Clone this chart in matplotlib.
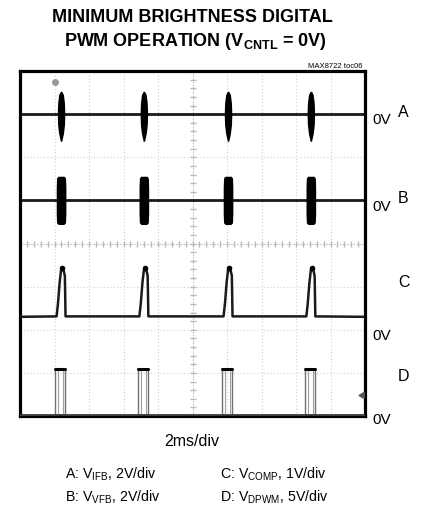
import matplotlib
matplotlib.use('Agg')
import matplotlib.pyplot as plt
import numpy as np

W, H = 422, 506

# scope screen: 10 x 8 divisions, values in divisions
pulse_t = [1.19, 3.59, 6.03, 8.43]          # pulse positions (div), 2ms/div

# A: V_IFB burst envelope
a_base = 7.0
a_env_y = [7.53, 7.45, 7.25, 7.0, 6.75, 6.55, 6.37]
a_env_hw = [0.02, 0.07, 0.10, 0.11, 0.10, 0.07, 0.02]

# B: V_VFB burst envelope
b_base = 5.0
b_env_y = [5.56, 5.52, 5.3, 5.0, 4.7, 4.48, 4.44]
b_env_hw = [0.09, 0.13, 0.14, 0.14, 0.14, 0.13, 0.08]

# C: V_COMP pulse shape (offset from pulse, level)
c_base = 2.3
c_dx = [-0.13, -0.09, -0.04, 0.0, 0.03, 0.08, 0.11, 0.12, 0.13]
c_y = [2.31, 2.6, 3.1, 3.38, 3.44, 3.36, 3.25, 2.8, 2.31]

# D: V_DPWM pulse
d_base = 0.03
d_left, d_right, d_top = -0.17, 0.12, 1.09

labels_right = [('0V', 6.88), ('0V', 4.86), ('0V', 1.88), ('0V', -0.07)]
channel_names = [('A', 7.07), ('B', 5.07), ('C', 3.12), ('D', 0.95)]

plt.rcParams['font.family'] = ['Liberation Sans', 'DejaVu Sans']
plt.rcParams['mathtext.fontset'] = 'custom'
plt.rcParams['mathtext.rm'] = 'Liberation Sans'
plt.rcParams['mathtext.bf'] = 'Liberation Sans:bold'

fig = plt.figure(figsize=(W / 100, H / 100), dpi=100)
x0, x1, y0, y1 = 20, 365, 72, 417
ax = fig.add_axes([x0 / W, 1 - y1 / H, (x1 - x0) / W, (y1 - y0) / H])
ax.set_xlim(0, 10)
ax.set_ylim(0, 8)
ax.set_xticks([])
ax.set_yticks([])
for s in ax.spines.values():
    s.set_linewidth(2.3)

# graticule
for i in range(1, 10):
    ax.axvline(i, color='#d0d0d0', lw=0.8, ls=(0, (1, 2)), zorder=0)
for j in range(1, 8):
    ax.axhline(j, color='#d0d0d0', lw=0.8, ls=(0, (1, 2)), zorder=0)
minor = np.arange(0, 10.01, 0.2)
ax.plot(minor, [4] * len(minor), '|', color='#b8b8b8', ms=4, zorder=0)
minor_y = np.arange(0, 8.01, 0.2)
ax.plot([5] * len(minor_y), minor_y, '_', color='#b8b8b8', ms=4, zorder=0)
ax.axvline(5, color='#c0c0c0', lw=0.8, ls=(0, (1, 1.5)), zorder=0)
ax.axhline(4, color='#c0c0c0', lw=0.8, ls=(0, (1, 1.5)), zorder=0)

# A trace
ax.axhline(a_base, color='#1a1a1a', lw=2.0, zorder=2)
for t in pulse_t:
    ax.fill_betweenx(a_env_y, [t - w for w in a_env_hw], [t + w for w in a_env_hw],
                     color='black', lw=0, zorder=3)

# B trace
ax.axhline(b_base, color='#1a1a1a', lw=2.0, zorder=2)
for t in pulse_t:
    ax.fill_betweenx(b_env_y, [t - w for w in b_env_hw], [t + w for w in b_env_hw],
                     color='black', lw=0, zorder=3)

# C trace
cx = [0]
cy = [c_base]
for t in pulse_t:
    cx += [t + d for d in c_dx]
    cy += c_y
cx.append(10)
cy.append(c_base)
ax.plot(cx, cy, color='#1a1a1a', lw=1.8, zorder=3)
for t in pulse_t:
    ax.plot(t + c_dx[4], c_y[4], 'o', color='black', ms=3, zorder=4)

# D trace
dx = [0]
dy = [d_base]
for t in pulse_t:
    dx += [t + d_left, t + d_left, t + d_right, t + d_right]
    dy += [d_base, d_top, d_top, d_base]
dx.append(10)
dy.append(d_base)
ax.plot(dx, dy, color='#707070', lw=1.0, zorder=3)
for t in pulse_t:
    ax.plot([t + d_left + 0.08, t + d_left + 0.08], [d_base, d_top - 0.05],
            color='#a0a0a0', lw=0.8, zorder=3)
    ax.plot([t + d_right - 0.06, t + d_right - 0.06], [d_base, d_top - 0.05],
            color='#a0a0a0', lw=0.8, zorder=3)
    ax.plot([t + d_left, t + d_right], [d_top, d_top], color='black', lw=2.2,
            solid_capstyle='round', zorder=4)
ax.plot([0, 10], [d_base, d_base], color='#333333', lw=1.2, zorder=3)

# markers
ax.plot(9.92, 0.49, marker=(3, 0, 90), color='#555555', ms=5, clip_on=False, zorder=5)
ax.plot(1.01, 7.74, 'o', color='#999999', ms=4, zorder=5)

# right side labels
for txt, yv in labels_right:
    ax.text(10.2, yv, txt, fontsize=11, ha='left', va='center', clip_on=False)
for txt, yv in channel_names:
    ax.text(10.95, yv, txt, fontsize=11.5, ha='left', va='center', clip_on=False)

# title
fig.text(192 / W, 1 - 18 / H, 'MINIMUM BRIGHTNESS DIGITAL', fontsize=13,
         fontweight='bold', ha='center', va='center')
fig.text(195 / W, 1 - 42 / H, r'PWM OPERATION (V$_{\mathbf{CNTL}}$ = 0V)',
         fontsize=13, fontweight='bold', ha='center', va='center')
fig.text(363 / W, 1 - 67 / H, 'MAX8722 toc06', fontsize=5.5, ha='right', va='center')

fig.text(192 / W, 1 - 442 / H, '2ms/div', fontsize=11.5, ha='center', va='center')
fig.text(65 / W, 1 - 474 / H, r'A: V$_{\mathrm{IFB}}$, 2V/div', fontsize=10.2, ha='left', va='center')
fig.text(65 / W, 1 - 497 / H, r'B: V$_{\mathrm{VFB}}$, 2V/div', fontsize=10.2, ha='left', va='center')
fig.text(220 / W, 1 - 474 / H, r'C: V$_{\mathrm{COMP}}$, 1V/div', fontsize=10.2, ha='left', va='center')
fig.text(220 / W, 1 - 497 / H, r'D: V$_{\mathrm{DPWM}}$, 5V/div', fontsize=10.2, ha='left', va='center')

fig.savefig('out.png', dpi=100)
